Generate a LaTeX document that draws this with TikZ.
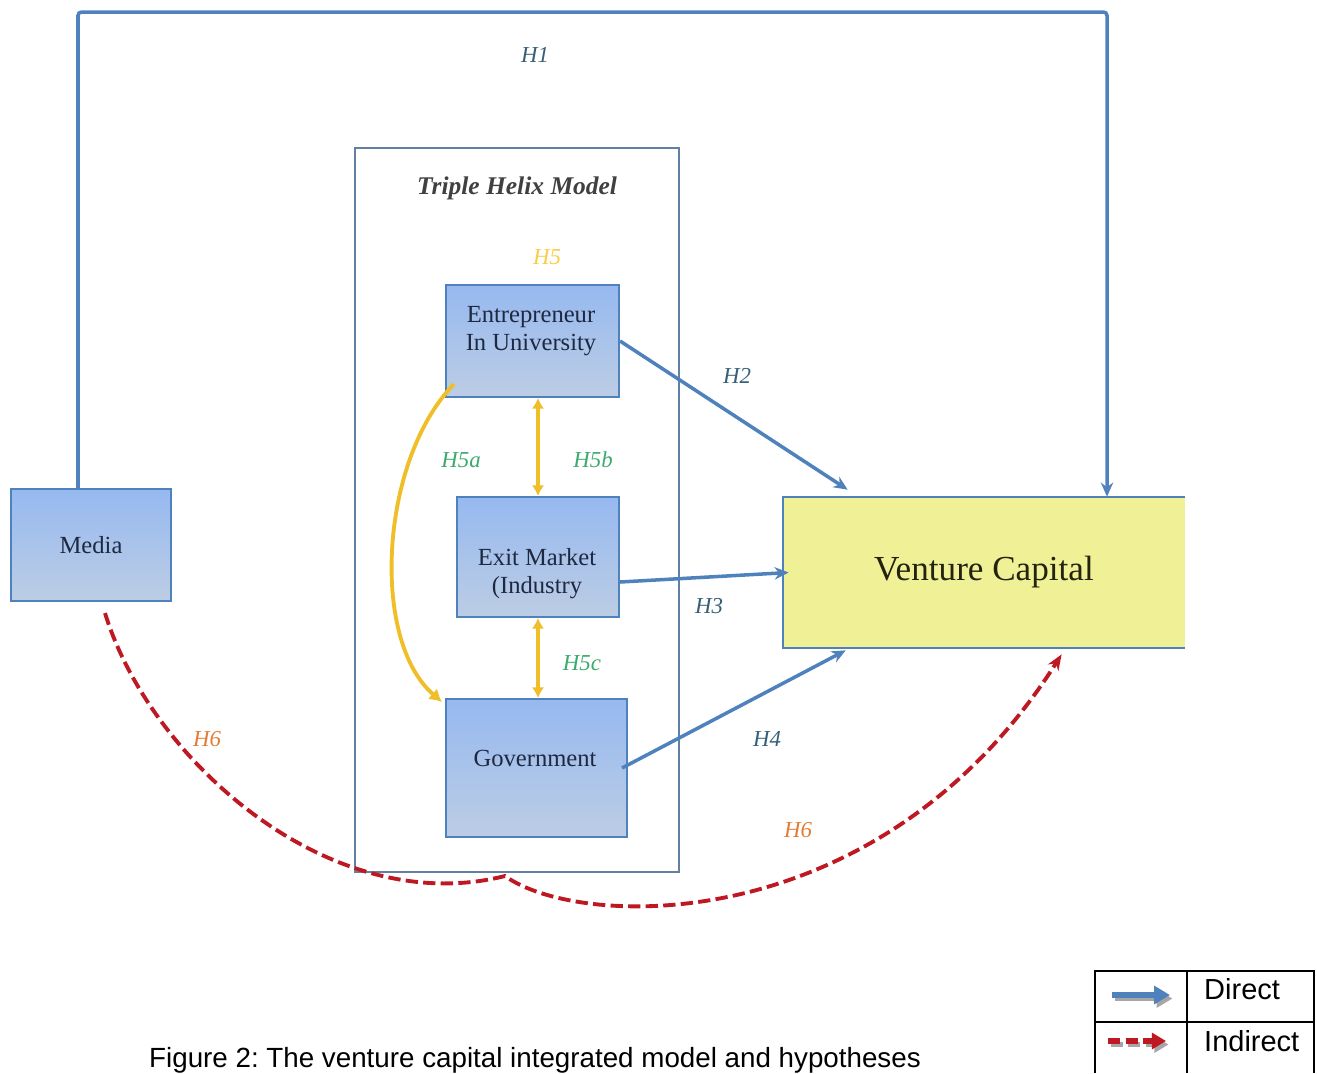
\documentclass[tikz,border=0pt]{standalone}
\usepackage{fontspec}
\setmainfont{Liberation Serif}
\newfontfamily\arialfont{Liberation Sans}
\usetikzlibrary{arrows.meta}
\frenchspacing

\definecolor{lineblue}{RGB}{79,129,189}
\definecolor{helixgold}{RGB}{240,190,40}
\definecolor{dashred}{RGB}{190,25,35}
\definecolor{hteal}{RGB}{55,95,120}
\definecolor{hgreen}{RGB}{60,170,110}
\definecolor{horange}{RGB}{225,125,55}
\definecolor{hyellow}{RGB}{250,205,70}
\definecolor{boxtop}{RGB}{150,185,240}
\definecolor{boxbot}{RGB}{188,205,228}
\definecolor{vcyellow}{RGB}{240,240,150}
\definecolor{boxtext}{RGB}{30,40,65}

\tikzset{
 actor/.style={draw=lineblue, line width=1.2pt, top color=boxtop, bottom color=boxbot},
 actortext/.style={font=\fontsize{14}{15.5}\selectfont, text=boxtext, align=center},
 direct/.style={draw=lineblue, line width=2pt, -{Stealth[length=8pt,width=7pt]}},
 helixarr/.style={draw=helixgold, line width=2.2pt},
 indirect/.style={draw=dashred, line width=2.2pt, dash pattern=on 7pt off 3pt, -{Stealth[length=9pt,width=7pt]}},
 hyp/.style={font=\fontsize{13}{15}\selectfont\itshape},
}

\begin{document}
\begin{tikzpicture}[x=0.02cm, y=-0.02cm]
\useasboundingbox (0,0) rectangle (1317,1073);

% triple helix ramka
\node [draw=lineblue!60!gray, line width=0.8pt, minimum width=6.48cm, minimum height=14.48cm] (helix) at (517,510) {};
\node [font=\fontsize{14.5}{16}\selectfont\bfseries\itshape, text=darkgray] (helixtitle) at (517,188) {Triple Helix Model};

% bloki
\node [actor, minimum width=3.46cm, minimum height=2.24cm] (ent) at (532.5,341) {};
\node [actortext] (enttext) at (531,331) {Entrepreneur\\In University};

\node [actor, minimum width=3.24cm, minimum height=2.4cm] (exit) at (538,557) {};
\node [actortext, text depth=0pt] (exittext) at (537,571) {Exit Market\\(Industry};

\node [actor, minimum width=3.62cm, minimum height=2.76cm] (gov) at (536.5,768) {};
\node [actortext] (govtext) at (535,758) {Government};

\node [actor, actortext, minimum width=3.2cm, minimum height=2.24cm] (media) at (91,545) {Media};

\node [fill=vcyellow, minimum width=8.04cm, minimum height=3.02cm, font=\fontsize{20}{22}\selectfont, text={rgb,255:red,35;green,35;blue,15}] (vc) at (984,572.5) {Venture Capital};
\draw [lineblue, line width=1.3pt] (vc.north east) -- (vc.north west) -- (vc.south west) -- (vc.south east);

% H1
\coordinate (h1left) at (78,12);
\coordinate (h1right) at (1107,12);
\draw [direct, rounded corners=2pt] (media.north -| h1left) -- (h1left) -- (h1right) -- (h1right |- vc.north);
\node [hyp, text=hteal] (h1) at (535,55) {H1};

% H2 H3 H4
\draw [direct] (ent.east) -- ([shift={(1.3cm,0.14cm)}]vc.north west);
\draw [direct] ([yshift=-0.5cm]exit.east) -- ([xshift=0.12cm]vc.west);
\draw [direct] ([xshift=-0.12cm]gov.east) -- ([shift={(1.26cm,-0.04cm)}]vc.south west);
\node [hyp, text=hteal] (h2) at (737,376) {H2};
\node [hyp, text=hteal] (h3) at (709,606) {H3};
\node [hyp, text=hteal] (h4) at (767,739) {H4};

% H5
\draw [helixarr, {Latex[length=6pt,width=7pt]}-{Latex[length=6pt,width=7pt]}] (exit.north |- ent.south) -- (exit.north);
\draw [helixarr, {Latex[length=6pt,width=7pt]}-{Latex[length=6pt,width=7pt]}] (exit.south) -- (exit.south |- gov.north);
\draw [helixarr, -{Latex[length=7pt,width=8pt]}] ([shift={(0.18cm,0.28cm)}]ent.south west) .. controls (380,460) and (370,640) .. ([shift={(-0.06cm,-0.08cm)}]gov.north west);
\node [hyp, text=hyellow] (h5) at (547,257) {H5};
\node [hyp, text=hgreen] (h5a) at (461,460) {H5a};
\node [hyp, text=hgreen] (h5b) at (593,460) {H5b};
\node [hyp, text=hgreen] (h5c) at (582,663) {H5c};

% H6 kosvennyj
\coordinate (cusp) at (505,876);
\draw [indirect] ([shift={(0.28cm,-0.22cm)}]media.south) .. controls (150,760) and (330,920) .. (cusp)
  .. controls (580,930) and (880,940) .. ([shift={(5.58cm,-0.12cm)}]vc.south west);
\node [hyp, text=horange] (h6a) at (207,739) {H6};
\node [hyp, text=horange] (h6b) at (798,830) {H6};

% legenda
\draw [line width=1pt] (1095,1073) |- (1314,971) -- (1314,1073);
\draw [line width=1pt] (1095,1022) -- (1314,1022);
\draw [line width=1pt] (1187,971) -- (1187,1073);
\coordinate (dirA) at (1112,995);
\coordinate (dirB) at (1170,995);
\coordinate (indA) at (1108,1041);
\coordinate (indB) at (1166,1041);
\draw [gray!70, line width=3pt, -{Triangle[length=9pt,width=10pt]}] ([shift={(0.05cm,-0.07cm)}]dirA) -- ([shift={(0.05cm,-0.07cm)}]dirB);
\draw [lineblue, line width=3pt, -{Triangle[length=9pt,width=10pt]}] (dirA) -- (dirB);
\draw [gray!70, line width=3pt, dash pattern=on 7pt off 3pt, -{Triangle[length=8pt,width=9pt]}] ([shift={(0.05cm,-0.07cm)}]indA) -- ([shift={(0.05cm,-0.07cm)}]indB);
\draw [dashred, line width=3pt, dash pattern=on 7pt off 3pt, -{Triangle[length=8pt,width=9pt]}] (indA) -- (indB);
\node [font=\arialfont\fontsize{16.5}{18}\selectfont, anchor=west] (direct) at (1198,989) {Direct};
\node [font=\arialfont\fontsize{16.5}{18}\selectfont, anchor=west] (indirect) at (1198,1041) {Indirect};

% podpis
\node [font=\arialfont\fontsize{15.8}{17}\selectfont] (caption) at (535,1060) {Figure 2: The venture capital integrated model and hypotheses};
\end{tikzpicture}
\end{document}
